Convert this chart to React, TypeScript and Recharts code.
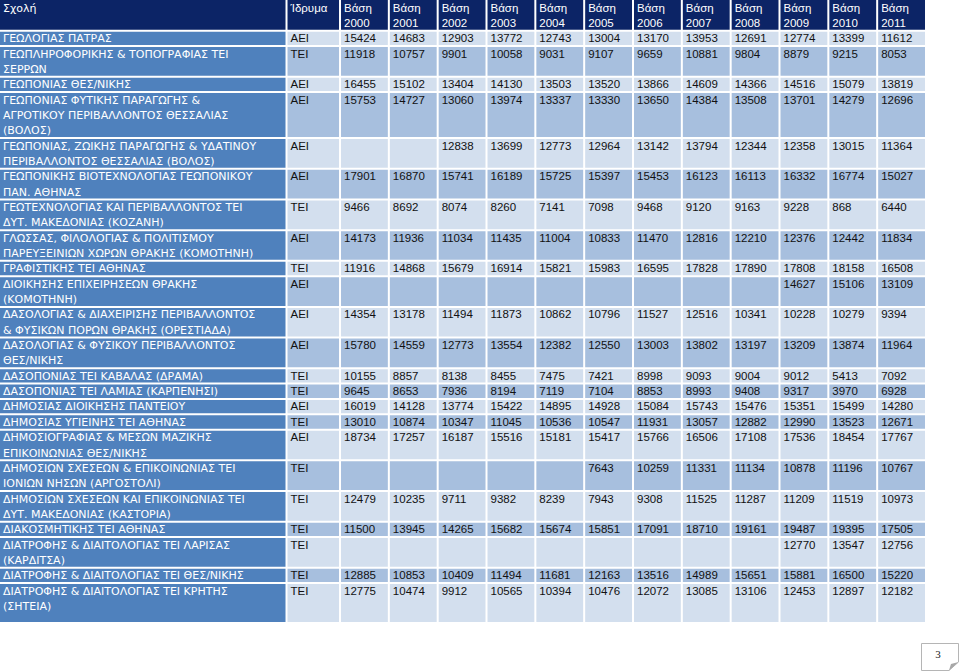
import { ScatterChart, Scatter, XAxis, YAxis, ReferenceArea } from "recharts";

const years = [2000, 2001, 2002, 2003, 2004, 2005, 2006, 2007, 2008, 2009, 2010, 2011];

const schools: string[][] = [
  ["ΓΕΩΛΟΓΙΑΣ ΠΑΤΡΑΣ"],
  ["ΓΕΩΠΛΗΡΟΦΟΡΙΚΗΣ & ΤΟΠΟΓΡΑΦΙΑΣ ΤΕΙ", "ΣΕΡΡΩΝ"],
  ["ΓΕΩΠΟΝΙΑΣ ΘΕΣ/ΝΙΚΗΣ"],
  ["ΓΕΩΠΟΝΙΑΣ ΦΥΤΙΚΗΣ ΠΑΡΑΓΩΓΗΣ &", "ΑΓΡΟΤΙΚΟΥ ΠΕΡΙΒΑΛΛΟΝΤΟΣ ΘΕΣΣΑΛΙΑΣ", "(ΒΟΛΟΣ)"],
  ["ΓΕΩΠΟΝΙΑΣ, ΖΩΙΚΗΣ ΠΑΡΑΓΩΓΗΣ & ΥΔΑΤΙΝΟΥ", "ΠΕΡΙΒΑΛΛΟΝΤΟΣ ΘΕΣΣΑΛΙΑΣ (ΒΟΛΟΣ)"],
  ["ΓΕΩΠΟΝΙΚΗΣ ΒΙΟΤΕΧΝΟΛΟΓΙΑΣ ΓΕΩΠΟΝΙΚΟΥ", "ΠΑΝ. ΑΘΗΝΑΣ"],
  ["ΓΕΩΤΕΧΝΟΛΟΓΙΑΣ ΚΑΙ ΠΕΡΙΒΑΛΛΟΝΤΟΣ ΤΕΙ", "ΔΥΤ. ΜΑΚΕΔΟΝΙΑΣ (ΚΟΖΑΝΗ)"],
  ["ΓΛΩΣΣΑΣ, ΦΙΛΟΛΟΓΙΑΣ & ΠΟΛΙΤΙΣΜΟΥ", "ΠΑΡΕΥΞΕΙΝΙΩΝ ΧΩΡΩΝ ΘΡΑΚΗΣ (ΚΟΜΟΤΗΝΗ)"],
  ["ΓΡΑΦΙΣΤΙΚΗΣ ΤΕΙ ΑΘΗΝΑΣ"],
  ["ΔΙΟΙΚΗΣΗΣ ΕΠΙΧΕΙΡΗΣΕΩΝ ΘΡΑΚΗΣ", "(ΚΟΜΟΤΗΝΗ)"],
  ["ΔΑΣΟΛΟΓΙΑΣ & ΔΙΑΧΕΙΡΙΣΗΣ ΠΕΡΙΒΑΛΛΟΝΤΟΣ", "& ΦΥΣΙΚΩΝ ΠΟΡΩΝ ΘΡΑΚΗΣ (ΟΡΕΣΤΙΑΔΑ)"],
  ["ΔΑΣΟΛΟΓΙΑΣ & ΦΥΣΙΚΟΥ ΠΕΡΙΒΑΛΛΟΝΤΟΣ", "ΘΕΣ/ΝΙΚΗΣ"],
  ["ΔΑΣΟΠΟΝΙΑΣ ΤΕΙ ΚΑΒΑΛΑΣ (ΔΡΑΜΑ)"],
  ["ΔΑΣΟΠΟΝΙΑΣ ΤΕΙ ΛΑΜΙΑΣ (ΚΑΡΠΕΝΗΣΙ)"],
  ["ΔΗΜΟΣΙΑΣ ΔΙΟΙΚΗΣΗΣ ΠΑΝΤΕΙΟΥ"],
  ["ΔΗΜΟΣΙΑΣ ΥΓΙΕΙΝΗΣ ΤΕΙ ΑΘΗΝΑΣ"],
  ["ΔΗΜΟΣΙΟΓΡΑΦΙΑΣ & ΜΕΣΩΝ ΜΑΖΙΚΗΣ", "ΕΠΙΚΟΙΝΩΝΙΑΣ ΘΕΣ/ΝΙΚΗΣ"],
  ["ΔΗΜΟΣΙΩΝ ΣΧΕΣΕΩΝ & ΕΠΙΚΟΙΝΩΝΙΑΣ ΤΕΙ", "ΙΟΝΙΩΝ ΝΗΣΩΝ (ΑΡΓΟΣΤΟΛΙ)"],
  ["ΔΗΜΟΣΙΩΝ ΣΧΕΣΕΩΝ ΚΑΙ ΕΠΙΚΟΙΝΩΝΙΑΣ ΤΕΙ", "ΔΥΤ. ΜΑΚΕΔΟΝΙΑΣ (ΚΑΣΤΟΡΙΑ)"],
  ["ΔΙΑΚΟΣΜΗΤΙΚΗΣ ΤΕΙ ΑΘΗΝΑΣ"],
  ["ΔΙΑΤΡΟΦΗΣ & ΔΙΑΙΤΟΛΟΓΙΑΣ ΤΕΙ ΛΑΡΙΣΑΣ", "(ΚΑΡΔΙΤΣΑ)"],
  ["ΔΙΑΤΡΟΦΗΣ & ΔΙΑΙΤΟΛΟΓΙΑΣ ΤΕΙ ΘΕΣ/ΝΙΚΗΣ"],
  ["ΔΙΑΤΡΟΦΗΣ & ΔΙΑΙΤΟΛΟΓΙΑΣ ΤΕΙ ΚΡΗΤΗΣ", "(ΣΗΤΕΙΑ)"],
];

const institutions = [
  "ΑΕΙ", "ΤΕΙ", "ΑΕΙ", "ΑΕΙ", "ΑΕΙ", "ΑΕΙ", "ΤΕΙ", "ΑΕΙ", "ΤΕΙ", "ΑΕΙ", "ΑΕΙ", "ΑΕΙ",
  "ΤΕΙ", "ΤΕΙ", "ΑΕΙ", "ΤΕΙ", "ΑΕΙ", "ΤΕΙ", "ΤΕΙ", "ΤΕΙ", "ΤΕΙ", "ΤΕΙ", "ΤΕΙ",
];

// entry bases per year, one value per school (null = no entry)
const base2000 = [15424, 11918, 16455, 15753, null, 17901, 9466, 14173, 11916, null, 14354, 15780, 10155, 9645, 16019, 13010, 18734, null, 12479, 11500, null, 12885, 12775];
const base2001 = [14683, 10757, 15102, 14727, null, 16870, 8692, 11936, 14868, null, 13178, 14559, 8857, 8653, 14128, 10874, 17257, null, 10235, 13945, null, 10853, 10474];
const base2002 = [12903, 9901, 13404, 13060, 12838, 15741, 8074, 11034, 15679, null, 11494, 12773, 8138, 7936, 13774, 10347, 16187, null, 9711, 14265, null, 10409, 9912];
const base2003 = [13772, 10058, 14130, 13974, 13699, 16189, 8260, 11435, 16914, null, 11873, 13554, 8455, 8194, 15422, 11045, 15516, null, 9382, 15682, null, 11494, 10565];
const base2004 = [12743, 9031, 13503, 13337, 12773, 15725, 7141, 11004, 15821, null, 10862, 12382, 7475, 7119, 14895, 10536, 15181, null, 8239, 15674, null, 11681, 10394];
const base2005 = [13004, 9107, 13520, 13330, 12964, 15397, 7098, 10833, 15983, null, 10796, 12550, 7421, 7104, 14928, 10547, 15417, 7643, 7943, 15851, null, 12163, 10476];
const base2006 = [13170, 9659, 13866, 13650, 13142, 15453, 9468, 11470, 16595, null, 11527, 13003, 8998, 8853, 15084, 11931, 15766, 10259, 9308, 17091, null, 13516, 12072];
const base2007 = [13953, 10881, 14609, 14384, 13794, 16123, 9120, 12816, 17828, null, 12516, 13802, 9093, 8993, 15743, 13057, 16506, 11331, 11525, 18710, null, 14989, 13085];
const base2008 = [12691, 9804, 14366, 13508, 12344, 16113, 9163, 12210, 17890, null, 10341, 13197, 9004, 9408, 15476, 12882, 17108, 11134, 11287, 19161, null, 15651, 13106];
const base2009 = [12774, 8879, 14516, 13701, 12358, 16332, 9228, 12376, 17808, 14627, 10228, 13209, 9012, 9317, 15351, 12990, 17536, 10878, 11209, 19487, 12770, 15881, 12453];
const base2010 = [13399, 9215, 15079, 14279, 13015, 16774, 868, 12442, 18158, 15106, 10279, 13874, 5413, 3970, 15499, 13523, 18454, 11196, 11519, 19395, 13547, 16500, 12897];
const base2011 = [11612, 8053, 13819, 12696, 11364, 15027, 6440, 11834, 16508, 13109, 9394, 11964, 7092, 6928, 14280, 12671, 17767, 10767, 10973, 17505, 12756, 15220, 12182];

const yearBases = [base2000, base2001, base2002, base2003, base2004, base2005, base2006, base2007, base2008, base2009, base2010, base2011];

// layout
const LINE = 15.35;
const SCHOOL_W = 286.5;
const INST_W = 53.5;
const YEAR_W = 48.83;
const TABLE_W = SCHOOL_W + INST_W + YEAR_W * years.length;
const HEADER_LINES = 2;
const LAST_EXTRA = 0.6;

const colEdges = [0, SCHOOL_W, SCHOOL_W + INST_W, ...years.map((_, i) => SCHOOL_W + INST_W + YEAR_W * (i + 1))];

const rowLines = schools.map((s, i) => s.length + (i === schools.length - 1 ? LAST_EXTRA : 0));
const rowTops: number[] = [];
rowLines.reduce((acc, n) => {
  rowTops.push(acc);
  return acc + n;
}, HEADER_LINES);
const TOTAL_LINES = HEADER_LINES + rowLines.reduce((a, b) => a + b, 0);
const CHART_H = Math.round(TOTAL_LINES * LINE);

const HEADER_BG = "#0c2466";
const SCHOOL_BG = "#4f81bd";
const LIGHT_BG = "#d3dfee";
const DARK_BG = "#a7bfde";
const NAME_FONT = "'DejaVu Sans', Verdana, sans-serif";
const NUM_FONT = "'Liberation Sans', Arial, sans-serif";

type Cell = { x: number; y: number; lines: string[]; color: string; name?: boolean };

const cells: Cell[] = [];
// header
cells.push({ x: 3, y: 0, lines: ["Σχολή"], color: "#ffffff", name: true });
cells.push({ x: SCHOOL_W + 4, y: 0, lines: ["Ίδρυμα"], color: "#ffffff" });
years.forEach((yr, i) => {
  cells.push({ x: colEdges[i + 2] + 4, y: 0, lines: ["Βάση", String(yr)], color: "#ffffff" });
});
// body
schools.forEach((name, r) => {
  const top = rowTops[r];
  cells.push({ x: 3, y: top, lines: name, color: "#ffffff", name: true });
  cells.push({ x: SCHOOL_W + 4, y: top, lines: [institutions[r]], color: "#111111" });
  yearBases.forEach((arr, i) => {
    const v = arr[r];
    if (v != null) cells.push({ x: colEdges[i + 2] + 4, y: top, lines: [String(v)], color: "#111111" });
  });
});

const GAP = 1;

const CellText = (props: any) => {
  const { cx, cy, payload } = props;
  if (cx == null || cy == null) return null;
  return (
    <g>
      {payload.lines.map((t: string, i: number) => (
        <text
          key={i}
          x={cx}
          y={cy + 11.5 + i * LINE}
          fill={payload.color}
          fontSize={payload.name ? 11 : 11.5}
          fontFamily={payload.name ? NAME_FONT : NUM_FONT}
        >
          {t}
        </text>
      ))}
    </g>
  );
};

const PageMark = () => (
  <div style={{ position: "absolute", left: 921, top: 643, width: 38, height: 28 }}>
    <svg width={38} height={28}>
      <path d="M0.5 0.5 H37.5 V19 L28 27.5 H0.5 Z" fill="#ffffff" stroke="#b5b5b5" />
      <path d="M37.5 19 L30 21 L28 27.5 Z" fill="#a8a8a8" />
      <text x={17} y={15} fontSize={11} fontFamily="'Liberation Serif', serif" fill="#222" textAnchor="middle">
        3
      </text>
    </svg>
  </div>
);

export default function App() {
  const yGap = GAP / LINE;
  return (
    <div style={{ position: "absolute", left: 0, top: 0, width: 960, height: 672, background: "#ffffff" }}>
      <ScatterChart width={Math.round(TABLE_W)} height={CHART_H} margin={{ top: 0, right: 0, bottom: 0, left: 0 }}>
        <XAxis type="number" dataKey="x" domain={[0, TABLE_W]} allowDataOverflow hide />
        <YAxis type="number" dataKey="y" domain={[0, TOTAL_LINES]} allowDataOverflow reversed hide />
        {colEdges.slice(0, -1).map((x0, c) => (
          <ReferenceArea
            key={`h-${c}`}
            x1={x0 + (c === 0 ? 0 : GAP)}
            x2={colEdges[c + 1] - GAP}
            y1={0}
            y2={HEADER_LINES - yGap}
            fill={HEADER_BG}
            fillOpacity={1}
            stroke="none"
          />
        ))}
        {schools.map((_, r) =>
          colEdges.slice(0, -1).map((x0, c) => (
            <ReferenceArea
              key={`c-${r}-${c}`}
              x1={x0 + (c === 0 ? 0 : GAP)}
              x2={colEdges[c + 1] - GAP}
              y1={rowTops[r] + yGap}
              y2={rowTops[r] + rowLines[r] - yGap}
              fill={c === 0 ? SCHOOL_BG : r % 2 === 0 ? LIGHT_BG : DARK_BG}
              fillOpacity={1}
              stroke="none"
            />
          ))
        )}
        <Scatter data={cells} shape={CellText} isAnimationActive={false} />
      </ScatterChart>
      <PageMark />
    </div>
  );
}
